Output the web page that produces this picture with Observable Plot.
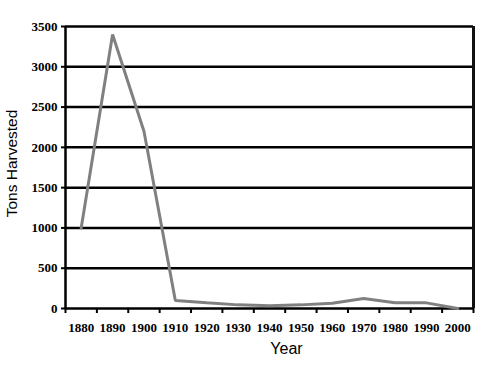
<!DOCTYPE html>
<html>
<head>
<meta charset="utf-8">
<script src="https://cdn.jsdelivr.net/npm/d3@7"></script>
<script src="https://cdn.jsdelivr.net/npm/@observablehq/plot@0.6"></script>
<style>
  html, body { margin: 0; padding: 0; background: #fff; }
  #chart { width: 500px; height: 375px; }
</style>
</head>
<body>
<div id="chart"></div>
<script>
const years = [1880, 1890, 1900, 1910, 1920, 1930, 1940, 1950, 1960, 1970, 1980, 1990, 2000];
const tons  = [1000, 3400, 2200, 100, 70, 45, 35, 45, 65, 125, 72, 70, 0];
const yTicks = [0, 500, 1000, 1500, 2000, 2500, 3000, 3500];
const xLabel = "Year";
const yLabel = "Tons Harvested";

const data = years.map((y, i) => ({year: y, tons: tons[i]}));
const bounds = [...years.map(y => y - 5), years[years.length - 1] + 5];
const xDomain = [bounds[0], bounds[bounds.length - 1]];

const tickFont = {fontFamily: "Liberation Serif", fontWeight: "bold", fontSize: 13};

const chart = Plot.plot({
  width: 500,
  height: 375,
  marginLeft: 65,
  marginRight: 27,
  marginTop: 26,
  marginBottom: 67,
  x: {type: "linear", domain: xDomain, axis: null},
  y: {type: "linear", domain: [0, 3500], axis: null},
  style: {background: "#fff", overflow: "visible"},
  marks: [
    Plot.ruleY(yTicks, {stroke: "#000", strokeWidth: 2.5}),
    Plot.ruleX([xDomain[0]], {stroke: "#000", strokeWidth: 2.5}),
    Plot.ruleX([xDomain[1]], {stroke: "#111", strokeWidth: 3}),
    Plot.axisY(yTicks, {ticks: yTicks, tickSize: 4, tickPadding: 4, tickFormat: d => String(d),
      stroke: "#000", strokeWidth: 2, label: null, ...tickFont, fill: "#000"}),
    Plot.axisX(bounds, {ticks: bounds, tickSize: 5, tickFormat: () => "", stroke: "#000",
      strokeWidth: 2, label: null}),
    Plot.axisX(years, {ticks: years, tickSize: 0, tickPadding: 14, tickFormat: d => String(d),
      label: null, ...tickFont, fill: "#000"}),
    Plot.line(data, {x: "year", y: "tons", stroke: "#808080", strokeWidth: 3,
      strokeLinejoin: "miter"}),
    Plot.text([xLabel], {frameAnchor: "bottom", dy: 45, dx: 17, text: d => d,
      fontFamily: "Liberation Sans", fontSize: 16, fill: "#000", lineAnchor: "bottom"}),
    Plot.text([yLabel], {frameAnchor: "left", textAnchor: "middle", dx: -53, dy: -4, rotate: -90,
      text: d => d, fontFamily: "Liberation Sans", fontSize: 15.5, fill: "#000"})
  ]
});
document.getElementById("chart").appendChild(chart);
</script>
</body>
</html>
